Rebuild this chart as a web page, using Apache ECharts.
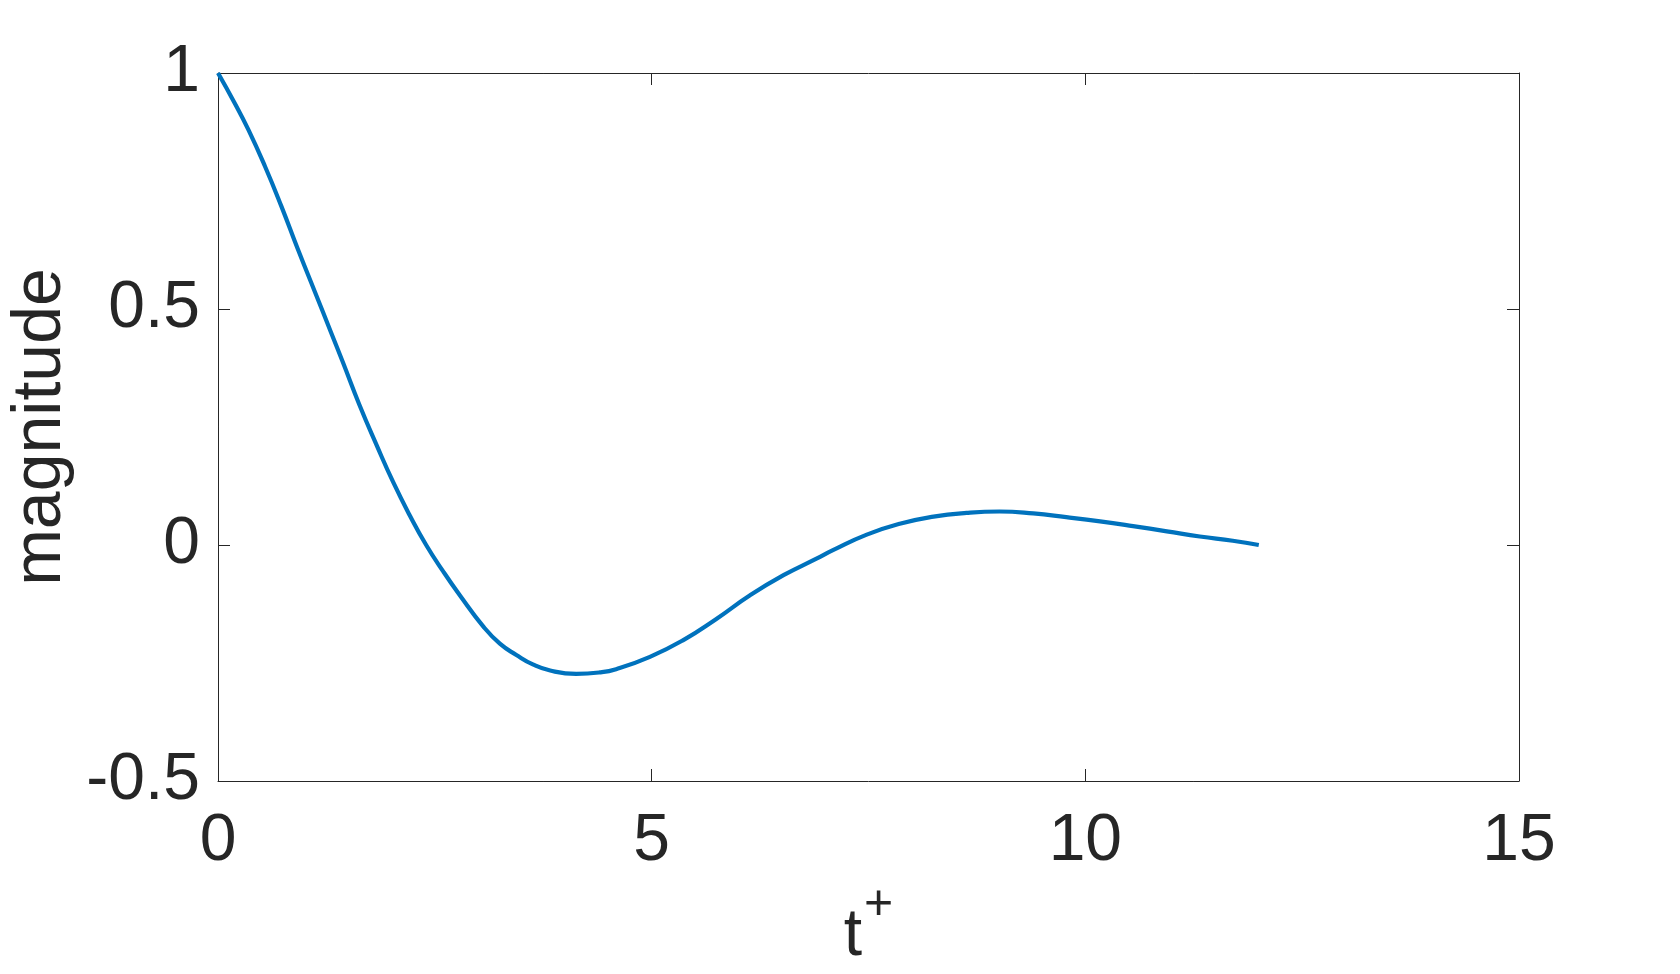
<!DOCTYPE html>
<html>
<head>
<meta charset="utf-8">
<title>magnitude vs t+</title>
<script src="https://cdn.jsdelivr.net/npm/echarts@6/dist/echarts.min.js"></script>
<style>
  html, body { margin: 0; padding: 0; background: #fff; }
  #main { width: 1680px; height: 974px; }
</style>
</head>
<body>
<div id="main"></div>
<script>
// values
const tValues = [0, 0.19, 0.35, 0.54, 0.73, 0.92, 1.12, 1.30, 1.44, 1.63, 1.83, 2.02, 2.21, 2.40, 2.60, 2.79,
  3.06, 3.25, 3.44, 3.63, 3.83, 4.13, 4.40, 4.59, 4.98, 5.36, 5.75, 6.13, 6.52, 6.90, 7.09, 7.48,
  7.86, 8.25, 8.63, 9.01, 9.40, 9.78, 10.17, 10.55, 10.94, 11.32, 11.70, 12.0]
const magnitude = [1, 0.937, 0.880, 0.803, 0.718, 0.627, 0.535, 0.452, 0.387, 0.297, 0.211, 0.133, 0.063, 0.0, -0.057, -0.107,
  -0.173, -0.209, -0.233, -0.253, -0.266, -0.273, -0.270, -0.263, -0.237, -0.202, -0.156, -0.107, -0.064, -0.029, -0.011, 0.022,
  0.045, 0.060, 0.068, 0.071, 0.067, 0.059, 0.050, 0.040, 0.029, 0.018, 0.009, 0.0]
const xTicks = [0, 15, 5]   // min, max, interval
const yTicks = [-0.5, 1, 0.5]

const axisColor = '#262626'
const fontFamily = '"Liberation Sans", Arial, Helvetica, sans-serif'

const chart = echarts.init(document.getElementById('main'))

const baseAxisLine = { show: true, onZero: false, lineStyle: { color: axisColor, width: 1 } }
const baseTick = { show: true, inside: true, length: 12, lineStyle: { color: axisColor, width: 1 } }

const option = {
  animation: false,
  backgroundColor: '#fff',
  grid: { left: 218, right: 161, top: 73, bottom: 193, containLabel: false, outerBoundsMode: 'none' },
  xAxis: [
    {
      type: 'value',
      min: xTicks[0],
      max: xTicks[1],
      interval: xTicks[2],
      position: 'bottom',
      axisLine: baseAxisLine,
      axisTick: baseTick,
      splitLine: { show: false },
      axisLabel: { color: axisColor, fontSize: 66, fontFamily: fontFamily, margin: 28 },
      name: '{a|t}{b|+}',
      nameLocation: 'middle',
      nameGap: 80,
      nameTextStyle: {
        color: axisColor,
        fontFamily: fontFamily,
        rich: {
          // superscript "+" sits at the top of the line, "t" at the bottom
          a: { fontSize: 66, fontFamily: fontFamily, color: axisColor, verticalAlign: 'bottom' },
          b: { fontSize: 50, fontFamily: fontFamily, color: axisColor, verticalAlign: 'top', padding: [0, 0, 40, 2] }
        }
      }
    },
    {
      type: 'value',
      min: xTicks[0],
      max: xTicks[1],
      interval: xTicks[2],
      position: 'top',
      axisLine: baseAxisLine,
      axisTick: baseTick,
      axisLabel: { show: false },
      splitLine: { show: false }
    }
  ],
  yAxis: [
    {
      type: 'value',
      min: yTicks[0],
      max: yTicks[1],
      interval: yTicks[2],
      position: 'left',
      axisLine: baseAxisLine,
      axisTick: baseTick,
      splitLine: { show: false },
      axisLabel: { color: axisColor, fontSize: 66, fontFamily: fontFamily, margin: 18 },
      name: 'magnitude',
      nameLocation: 'middle',
      nameGap: 130,
      nameRotate: 90,
      nameTextStyle: { color: axisColor, fontSize: 68, fontFamily: fontFamily }
    },
    {
      type: 'value',
      min: yTicks[0],
      max: yTicks[1],
      interval: yTicks[2],
      position: 'right',
      axisLine: baseAxisLine,
      axisTick: baseTick,
      axisLabel: { show: false },
      splitLine: { show: false }
    }
  ],
  series: [
    {
      type: 'line',
      xAxisIndex: 0,
      yAxisIndex: 0,
      data: tValues.map((t, i) => [t, magnitude[i]]),
      smooth: 0.5,
      showSymbol: false,
      lineStyle: { color: '#0072BD', width: 4.2 },
      clip: false
    }
  ]
}

chart.setOption(option)
</script>
</body>
</html>
